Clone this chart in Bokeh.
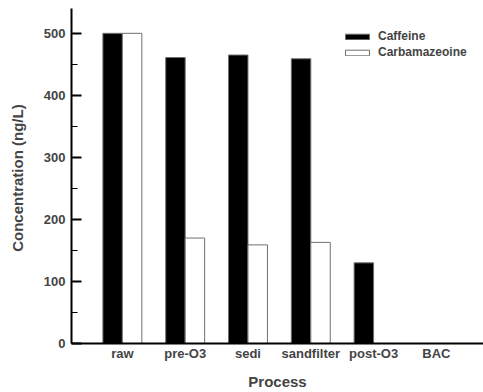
from bokeh.plotting import figure
from bokeh.models import Range1d, FixedTicker, Legend, LegendItem
from bokeh.embed import file_html
from bokeh.resources import INLINE

processes = ["raw", "pre-O3", "sedi", "sandfilter", "post-O3", "BAC"]
caffeine = [500, 461, 465, 459, 130, 0]
carbamazeoine = [500, 170, 159, 163, 0, 0]
y_ticks = [0, 100, 200, 300, 400, 500]
y_minor = [50, 150, 250, 350, 450]

FONT = "Liberation Sans"

p = figure(width=483, height=392, output_backend="svg", toolbar_location=None,
           x_range=Range1d(-0.81, 5.75), y_range=Range1d(0, 540),
           min_border_left=71, min_border_right=0, min_border_top=8, min_border_bottom=49)
p.outline_line_color = None
p.xgrid.visible = False
p.ygrid.visible = False

xs = list(range(len(processes)))
bw = 0.31
r1 = p.vbar(x=[x - bw / 2 for x in xs], top=caffeine, bottom=0, width=bw,
            fill_color="black", line_color="#707070", line_width=1)
r2 = p.vbar(x=[x + bw / 2 for x in xs], top=carbamazeoine, bottom=0, width=bw,
            fill_color="white", line_color="#707070", line_width=1)

# y axis
ya = p.yaxis[0]
ya.ticker = FixedTicker(ticks=y_ticks, minor_ticks=y_minor)
ya.major_tick_in = 10
ya.major_tick_out = 0
ya.minor_tick_in = 6
ya.minor_tick_out = 0
ya.axis_line_width = 2
ya.major_tick_line_width = 2
ya.minor_tick_line_width = 1
ya.major_label_text_font = FONT
ya.major_label_text_font_style = "bold"
ya.major_label_text_font_size = "13px"
ya.major_label_standoff = 6
ya.axis_label = "Concentration  (ng/L)"
ya.axis_label_text_font = FONT
ya.axis_label_text_font_style = "bold"
ya.axis_label_text_font_size = "15px"
ya.axis_label_standoff = 15

# x axis
xa = p.xaxis[0]
xa.ticker = FixedTicker(ticks=xs, minor_ticks=[])
xa.major_label_overrides = {i: n for i, n in enumerate(processes)}
xa.major_tick_in = 0
xa.major_tick_out = 0
xa.minor_tick_in = 0
xa.minor_tick_out = 0
xa.axis_line_width = 2
xa.major_label_text_font = FONT
xa.major_label_text_font_style = "bold"
xa.major_label_text_font_size = "13px"
xa.major_label_standoff = 2
xa.axis_label = "Process"
xa.axis_label_text_font = FONT
xa.axis_label_text_font_style = "bold"
xa.axis_label_text_font_size = "15px"
xa.axis_label_standoff = 9

legend = Legend(items=[LegendItem(label="Caffeine", renderers=[r1]),
                       LegendItem(label="Carbamazeoine", renderers=[r2])],
                location=(271, 284), padding=0, margin=0, spacing=2,
                glyph_width=30, glyph_height=7, label_height=14, label_standoff=6,
                label_text_font=FONT, label_text_font_style="bold",
                label_text_font_size="12px",
                border_line_color=None, background_fill_alpha=0)
p.add_layout(legend)

open("out.html", "w").write(file_html(p, INLINE))
